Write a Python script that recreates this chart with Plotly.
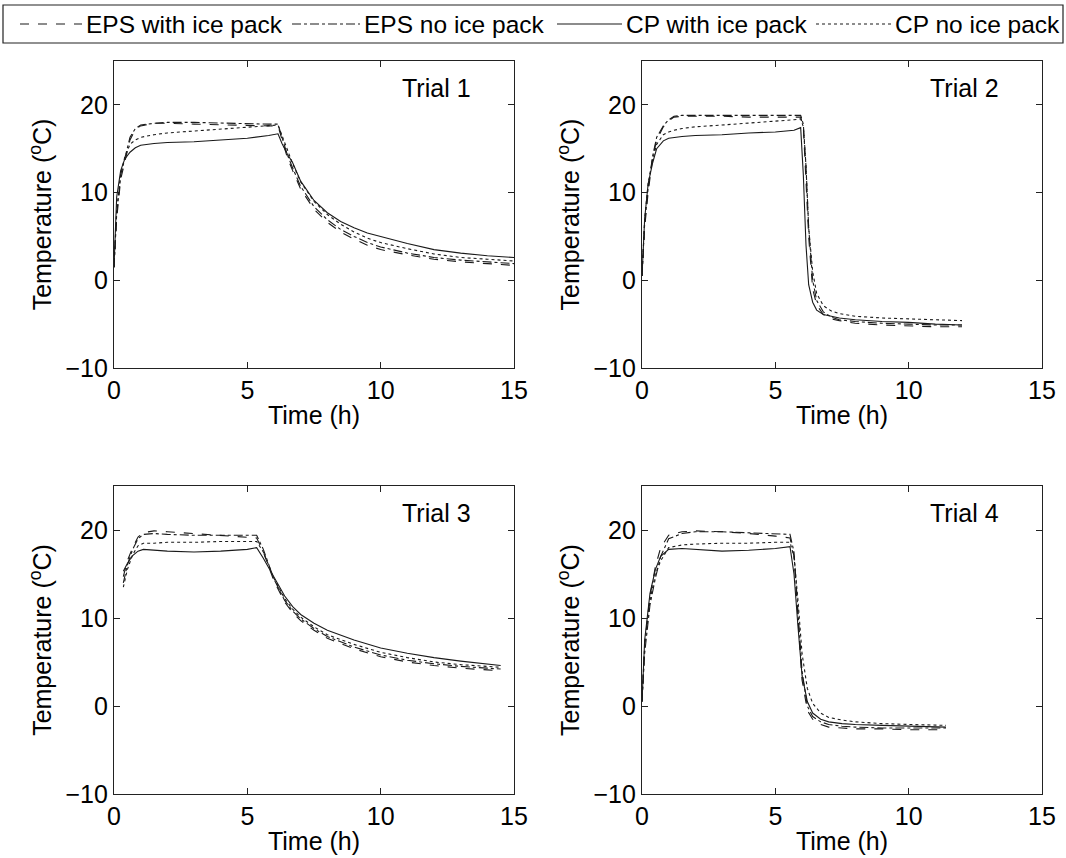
import plotly.graph_objects as go

# ---------------- data ----------------
series_names = ["EPS with ice pack", "EPS no ice pack", "CP with ice pack", "CP no ice pack"]
trial_labels = ["Trial 1", "Trial 2", "Trial 3", "Trial 4"]
x_ticks = [0, 5, 10, 15]
y_ticks = [-10, 0, 10, 20]

t1_time = [0, 0.1, 0.25, 0.4, 0.6, 0.8, 1.0, 1.5, 2, 3, 4, 5, 5.8, 6.15, 6.3, 6.5, 6.7, 7.0, 7.5, 8, 8.5, 9, 9.5, 10, 11, 12, 13, 14, 15]
t1_eps_ice = [1.5, 7.0, 11.5, 13.5, 16.0, 17.2, 17.6, 17.9, 17.9, 17.8, 17.7, 17.6, 17.6, 17.6, 16.0, 14.0, 12.5, 10.4, 8.1, 6.6, 5.5, 4.7, 4.0, 3.5, 2.9, 2.4, 2.1, 1.9, 1.7]
t1_eps_noice = [1.5, 7.5, 12.0, 14.0, 16.3, 17.3, 17.7, 17.9, 18.0, 18.0, 17.9, 17.8, 17.8, 17.8, 16.3, 14.3, 12.8, 10.7, 8.4, 6.9, 5.8, 5.0, 4.3, 3.8, 3.1, 2.6, 2.3, 2.1, 1.9]
t1_cp_ice = [1.5, 9.5, 12.5, 13.8, 14.6, 15.1, 15.4, 15.6, 15.7, 15.8, 16.0, 16.2, 16.5, 16.7, 15.6, 14.4, 13.4, 11.3, 9.1, 7.7, 6.7, 6.0, 5.4, 5.0, 4.2, 3.5, 3.1, 2.8, 2.6]
t1_cp_noice = [1.5, 8.0, 12.0, 14.0, 15.5, 16.0, 16.3, 16.6, 16.8, 17.0, 17.2, 17.4, 17.6, 17.7, 16.5, 14.8, 13.3, 11.2, 9.0, 7.5, 6.4, 5.5, 4.8, 4.3, 3.6, 3.0, 2.6, 2.4, 2.2]

t2_time = [0, 0.1, 0.23, 0.4, 0.55, 0.8, 1.0, 1.2, 1.5, 2, 3, 4, 5, 5.7, 5.95, 6.05, 6.15, 6.25, 6.4, 6.55, 6.8, 7.1, 7.4, 8, 9, 10, 11, 12]
t2_eps_ice = [0.5, 6, 10, 14.0, 16.0, 17.5, 18.2, 18.6, 18.7, 18.7, 18.7, 18.6, 18.6, 18.6, 18.6, 17.5, 12, 5, -1, -2.8, -3.9, -4.4, -4.6, -4.9, -5.1, -5.2, -5.3, -5.3]
t2_eps_noice = [0.5, 6.5, 10.5, 14.2, 16.3, 17.6, 18.3, 18.7, 18.8, 18.8, 18.8, 18.8, 18.8, 18.8, 18.8, 17.8, 13, 6, 0, -2.3, -3.6, -4.2, -4.5, -4.7, -4.9, -5.0, -5.1, -5.1]
t2_cp_ice = [0.5, 7, 11, 13.4, 15.0, 15.9, 16.2, 16.3, 16.4, 16.5, 16.6, 16.8, 16.9, 17.1, 17.4, 12, 4, -0.5, -2.5, -3.4, -3.9, -4.1, -4.3, -4.5, -4.7, -4.8, -5.0, -5.1]
t2_cp_noice = [0.5, 7, 11, 13.8, 15.5, 16.6, 16.9, 17.1, 17.3, 17.5, 17.7, 17.9, 18.1, 18.3, 18.4, 17.5, 13, 6, 1, -1.5, -2.9, -3.5, -3.8, -4.1, -4.3, -4.4, -4.5, -4.6]

t3_time = [0.35, 0.5, 0.7, 0.9, 1.1, 1.5, 2, 3, 4, 5, 5.35, 5.6, 6.0, 6.4, 6.7, 7.0, 7.5, 8, 9, 10, 11, 12, 13, 14, 14.5]
t3_eps_ice = [14.7, 16.5, 18.0, 19.2, 19.7, 19.9, 19.8, 19.6, 19.4, 19.2, 19.1, 17.5, 14.2, 11.8, 10.6, 9.7, 8.6, 7.7, 6.5, 5.6, 5.0, 4.6, 4.3, 4.1, 4.0]
t3_eps_noice = [14.0, 16.0, 17.8, 19.0, 19.5, 19.6, 19.5, 19.4, 19.4, 19.4, 19.4, 17.8, 14.4, 12.0, 10.8, 9.9, 8.8, 7.9, 6.7, 5.8, 5.2, 4.8, 4.5, 4.3, 4.2]
t3_cp_ice = [15.3, 16.2, 17.1, 17.6, 17.8, 17.7, 17.6, 17.5, 17.6, 17.8, 18.0, 16.8, 14.7, 12.5, 11.3, 10.4, 9.4, 8.6, 7.5, 6.6, 6.0, 5.5, 5.1, 4.8, 4.6]
t3_cp_noice = [13.5, 15.5, 17.2, 18.2, 18.5, 18.5, 18.6, 18.6, 18.7, 18.7, 18.7, 17.5, 14.5, 12.2, 11.0, 10.1, 9.0, 8.1, 7.0, 6.1, 5.5, 5.0, 4.7, 4.5, 4.4]

t4_time = [0, 0.1, 0.3, 0.5, 0.7, 1.0, 1.5, 2, 3, 4, 5, 5.55, 5.7, 5.85, 6.0, 6.2, 6.4, 6.7, 7.0, 7.5, 8, 9, 10, 11, 11.4]
t4_eps_ice = [0.5, 7.0, 12.5, 15.8, 18.0, 19.4, 19.8, 19.9, 19.8, 19.6, 19.3, 19.1, 17, 10, 3, -0.5, -1.5, -2.1, -2.4, -2.5, -2.6, -2.6, -2.7, -2.7, -2.7]
t4_eps_noice = [0.5, 6.0, 11.5, 14.5, 17.0, 19.0, 19.6, 19.8, 19.8, 19.7, 19.6, 19.5, 17.5, 11, 4, 0, -1.2, -1.8, -2.1, -2.3, -2.4, -2.5, -2.5, -2.5, -2.5]
t4_cp_ice = [0.5, 7.5, 12.8, 15.5, 17.0, 17.8, 17.9, 17.8, 17.6, 17.7, 17.9, 18.1, 15, 9, 3.5, 0.5, -0.8, -1.5, -1.8, -2.0, -2.1, -2.2, -2.3, -2.4, -2.4]
t4_cp_noice = [0.5, 7.0, 12.0, 15.0, 16.5, 18.0, 18.3, 18.4, 18.5, 18.5, 18.6, 18.6, 17, 12, 6, 2, 0.3, -0.8, -1.3, -1.6, -1.8, -2.0, -2.1, -2.2, -2.2]

trials = [
    (t1_time, [t1_eps_ice, t1_eps_noice, t1_cp_ice, t1_cp_noice]),
    (t2_time, [t2_eps_ice, t2_eps_noice, t2_cp_ice, t2_cp_noice]),
    (t3_time, [t3_eps_ice, t3_eps_noice, t3_cp_ice, t3_cp_noice]),
    (t4_time, [t4_eps_ice, t4_eps_noice, t4_cp_ice, t4_cp_noice]),
]

# ---------------- styling ----------------
W, H = 1066, 858
FONT = "Liberation Sans, Arial, Helvetica, sans-serif"
FS = 25
dashes = ["dash", "dashdot", "solid", "dot"]
line_color = "#1a1a1a"

# plot rectangles in pixels (left, right, top, bottom)
boxes = [(114, 514, 61, 368), (642, 1042, 61, 368),
         (114, 514, 486, 794), (642, 1042, 486, 794)]

fig = go.Figure()
for i, (tt, vals) in enumerate(trials):
    ax = "" if i == 0 else str(i + 1)
    for j, v in enumerate(vals):
        fig.add_trace(go.Scatter(
            x=tt, y=v, mode="lines", name=series_names[j],
            line=dict(color=line_color, width=1.1, dash=dashes[j]),
            xaxis="x" + ax, yaxis="y" + ax,
            showlegend=False, legendgroup=series_names[j],
        ))

layout = dict(
    width=W, height=H,
    margin=dict(l=0, r=0, t=0, b=0, autoexpand=False),
    paper_bgcolor="white", plot_bgcolor="white",
    font=dict(family=FONT, size=FS, color="black"),
    showlegend=False,
)
for i, (l, r, t, b) in enumerate(boxes):
    ax = "" if i == 0 else str(i + 1)
    common = dict(showline=True, linecolor="#222", linewidth=1.2, mirror="ticks",
                  ticks="inside", ticklen=6, tickcolor="#222", tickwidth=1,
                  showgrid=False, zeroline=False, automargin=False,
                  tickfont=dict(size=FS, family=FONT))
    layout["xaxis" + ax] = dict(common, domain=[l / W, r / W], range=[0, 15],
                                tickvals=x_ticks, anchor="y" + ax,
                                title=dict(text="Time (h)", standoff=3, font=dict(size=FS)))
    layout["yaxis" + ax] = dict(common, domain=[1 - b / H, 1 - t / H], range=[-10, 25],
                                tickvals=y_ticks, anchor="x" + ax,
                                title=dict(text="Temperature (<sup>o</sup>C)", standoff=6,
                                           font=dict(size=FS)))
fig.update_layout(**layout)

for i, lab in enumerate(trial_labels):
    ax = "" if i == 0 else str(i + 1)
    fig.add_annotation(text=lab, x=12.1, y=21.9, xref="x" + ax, yref="y" + ax,
                       showarrow=False, font=dict(size=FS, family=FONT))

# ---------------- legend (drawn as a MATLAB-style box) ----------------
leg_box = (3, 1063, 5, 43)          # left, right, top, bottom (px)
leg_cy = 24
leg_samples = [(20, 82), (292, 360), (557, 622), (816, 891)]
fig.add_shape(type="rect", xref="paper", yref="paper",
              x0=leg_box[0] / W, x1=leg_box[1] / W,
              y0=1 - leg_box[3] / H, y1=1 - leg_box[2] / H,
              line=dict(color="#222", width=1.2), fillcolor="white")
for j, (a, b) in enumerate(leg_samples):
    fig.add_shape(type="line", xref="paper", yref="paper",
                  x0=a / W, x1=b / W, y0=1 - leg_cy / H, y1=1 - leg_cy / H,
                  line=dict(color=line_color, width=1.1, dash=dashes[j]))
    fig.add_annotation(text=series_names[j], xref="paper", yref="paper",
                       x=(b + 2) / W, y=1 - leg_cy / H, xanchor="left", yanchor="middle",
                       showarrow=False, font=dict(size=24.5, family=FONT))

fig.write_html("out.html", config={"displayModeBar": False},
               post_script="document.body.style.margin='0';document.body.style.overflow='hidden';")
